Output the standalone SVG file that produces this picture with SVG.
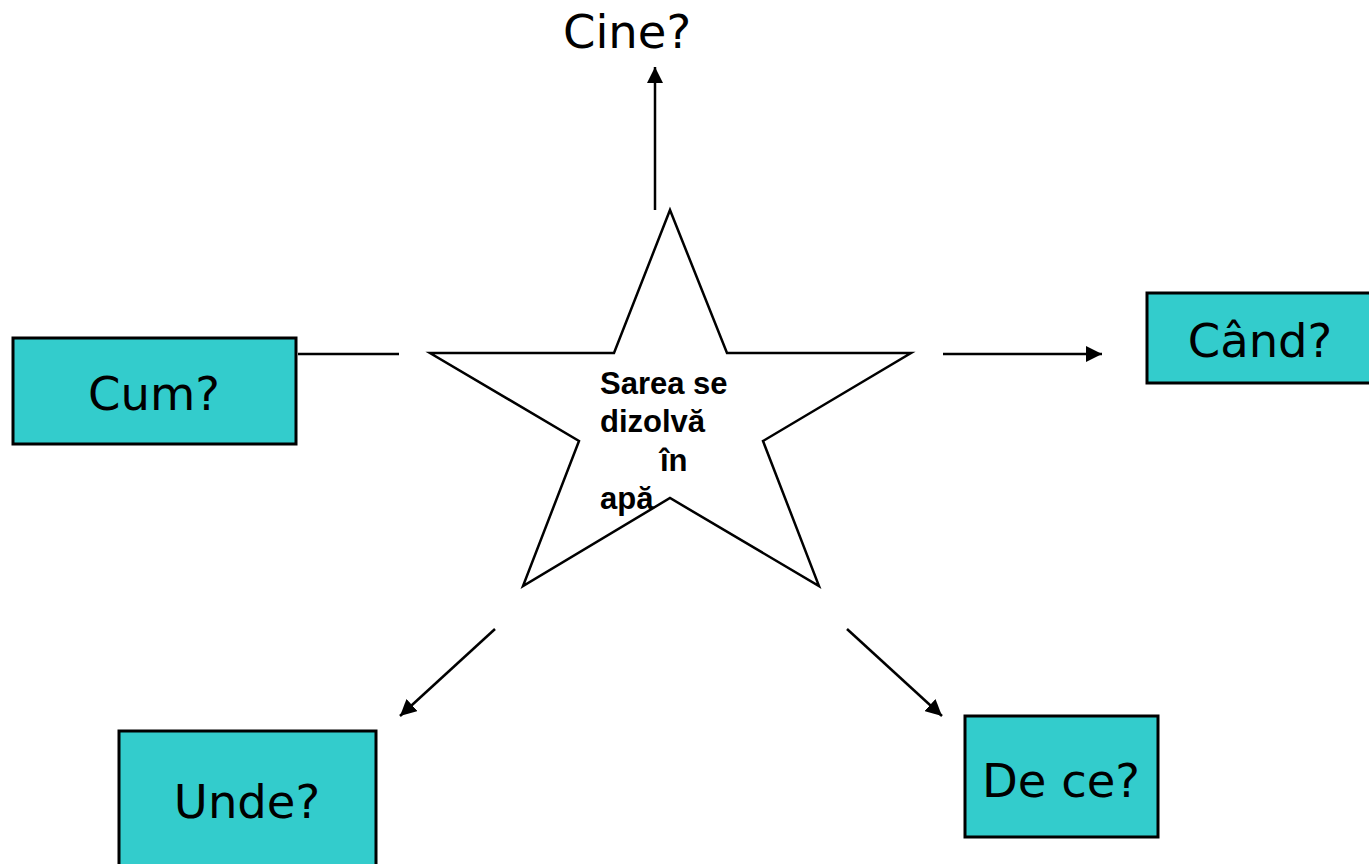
<svg xmlns="http://www.w3.org/2000/svg" width="1369" height="864" viewBox="0 0 1369 864">
<style>
.box{fill:#33CCCC;stroke:#000;stroke-width:3}
.lbl{font-family:"DejaVu Sans",Verdana,sans-serif;font-size:46.5px;fill:#000;text-anchor:middle}
.star{fill:#fff;stroke:#000;stroke-width:2.5}
.st{font-family:"Liberation Sans",Arial,sans-serif;font-weight:bold;font-size:31px;fill:#000}
.c{stroke:#000;stroke-width:2.5;fill:none}
</style>
<defs>
<marker id="ah" viewBox="0 0 10 10" refX="10" refY="5" markerWidth="6.5" markerHeight="6.5" markerUnits="strokeWidth" orient="auto">
<path d="M0,0 L10,5 L0,10 z" fill="#000"/>
</marker>
</defs>
<rect width="1369" height="864" fill="#fff"/>
<g id="connectors">
<line class="c" x1="655" y1="210" x2="655" y2="67" marker-end="url(#ah)"/>
<line class="c" x1="298" y1="354" x2="399" y2="354"/>
<line class="c" x1="943" y1="354" x2="1102" y2="354" marker-end="url(#ah)"/>
<line class="c" x1="495" y1="629" x2="400" y2="716" marker-end="url(#ah)"/>
<line class="c" x1="847" y1="629" x2="942" y2="716" marker-end="url(#ah)"/>
</g>
<g id="star">
<polygon class="star" points="670,210 727,353 911,353 763,441 819,586 670,498 523,586 579,441 430,353 614,353"/>
<text class="st" x="600" y="394">Sarea se</text>
<text class="st" x="600" y="432">dizolvă</text>
<text class="st" x="660" y="471">în</text>
<text class="st" x="600" y="509">apă</text>
</g>
<g id="cine">
<text class="lbl" x="627" y="48">Cine?</text>
</g>
<g id="cum">
<rect class="box" x="13" y="338" width="283" height="106"/>
<text class="lbl" x="154" y="410">Cum?</text>
</g>
<g id="cand">
<rect class="box" x="1147" y="293" width="225" height="90"/>
<text class="lbl" x="1260" y="357">Când?</text>
</g>
<g id="unde">
<rect class="box" x="119" y="731" width="257" height="140"/>
<text class="lbl" x="247" y="818">Unde?</text>
</g>
<g id="dece">
<rect class="box" x="965" y="716" width="193" height="121"/>
<text class="lbl" x="1061" y="797">De ce?</text>
</g>
</svg>
